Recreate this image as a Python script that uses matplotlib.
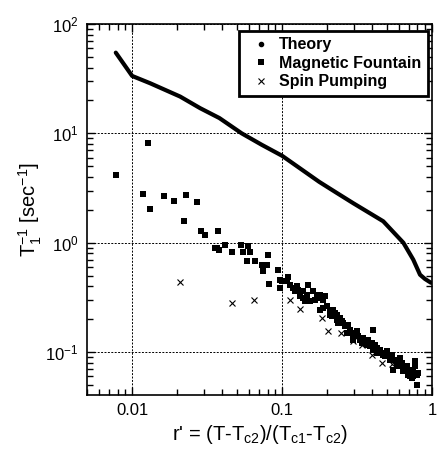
import matplotlib
matplotlib.use("Agg")
import matplotlib.pyplot as plt
from matplotlib.lines import Line2D
from matplotlib.ticker import FixedLocator, FixedFormatter, LogLocator, NullFormatter

plt.rcParams['font.family'] = ['Liberation Sans', 'DejaVu Sans']
plt.rcParams['mathtext.fontset'] = 'custom'
plt.rcParams['mathtext.rm'] = 'Liberation Sans'
plt.rcParams['mathtext.it'] = 'Liberation Sans:italic'
plt.rcParams['mathtext.bf'] = 'Liberation Sans:bold'
plt.rcParams['mathtext.default'] = 'regular'

# Theory curve
theory_x = [0.00778, 0.0100, 0.0132, 0.0209, 0.0284, 0.0382, 0.0538, 0.0733, 0.100,
            0.177, 0.232, 0.298, 0.473, 0.644, 0.75, 0.832, 0.898, 0.985]
theory_y = [54.7, 33.5, 28.7, 21.7, 17.0, 13.8, 10.0, 7.85, 6.24,
            3.6, 2.85, 2.3, 1.57, 1.0, 0.70, 0.51, 0.466, 0.43]

# Magnetic Fountain
mf_x = [0.00782, 0.0128, 0.0119, 0.0132, 0.0164, 0.0191, 0.0227, 0.0223, 0.0271, 0.0290,
        0.0308, 0.0371, 0.0359, 0.0382, 0.0419, 0.0417, 0.0462, 0.0533, 0.0547, 0.0597,
        0.0612, 0.0581, 0.0661, 0.0732, 0.0811, 0.0790, 0.0751, 0.0823, 0.0945, 0.0970,
        0.0970, 0.0995, 0.1074, 0.1102, 0.1130, 0.122, 0.1253, 0.1285, 0.1318, 0.1373,
        0.1424, 0.1498, 0.1476, 0.1537, 0.1618, 0.1703, 0.1747, 0.1792, 0.1886, 0.1935,
        0.1792, 0.1886, 0.1985, 0.2089, 0.2199, 0.2143, 0.2256, 0.2314, 0.2435, 0.2375,
        0.2564, 0.263, 0.2768, 0.2840, 0.270, 0.2913, 0.299, 0.3147, 0.3228, 0.331,
        0.4064, 0.3397, 0.3576, 0.3668, 0.3862, 0.396, 0.4064, 0.4276, 0.4387, 0.450,
        0.4737, 0.4985, 0.5115, 0.5384, 0.5525, 0.5525, 0.5814, 0.6118, 0.628, 0.644,
        0.661, 0.678, 0.6955, 0.7135, 0.732, 0.751, 0.770, 0.790, 0.790, 0.811,
        0.770, 0.678, 0.299, 0.3485, 0.3763, 0.417, 0.4619, 0.5248, 0.5965, 0.644,
        0.6955, 0.732, 0.751, 0.5814, 0.486, 0.4276, 0.2314, 0.2499, 0.2089, 0.166,
        0.1388, 0.119, 0.0366, 0.0376]
mf_y = [4.15, 8.13, 2.80, 2.03, 2.69, 2.41, 2.74, 1.59, 2.36, 1.29,
        1.18, 1.29, 0.90, 0.863, 0.96, 0.96, 0.822, 0.96, 0.822, 0.939,
        0.822, 0.675, 0.675, 0.630, 0.777, 0.630, 0.547, 0.422, 0.567, 0.459,
        0.385, 0.443, 0.443, 0.486, 0.413, 0.359, 0.399, 0.372, 0.324, 0.312,
        0.291, 0.413, 0.335, 0.291, 0.359, 0.335, 0.312, 0.335, 0.302, 0.324,
        0.244, 0.253, 0.262, 0.244, 0.244, 0.2125, 0.228, 0.198, 0.205, 0.185,
        0.185, 0.172, 0.178, 0.1605, 0.1496, 0.1496, 0.1445, 0.155, 0.1395, 0.130,
        0.1605, 0.1213, 0.1256, 0.117, 0.113, 0.1213, 0.1054, 0.109, 0.0983, 0.1054,
        0.0948, 0.1017, 0.0916, 0.0948, 0.0854, 0.0692, 0.0854, 0.0885, 0.0796, 0.0742,
        0.0668, 0.0692, 0.0623, 0.0602, 0.0668, 0.0602, 0.0824, 0.0623, 0.0505, 0.0645,
        0.0742, 0.0742, 0.130, 0.1347, 0.130, 0.117, 0.0983, 0.0854, 0.0796, 0.0668,
        0.0692, 0.0581, 0.0692, 0.0742, 0.0916, 0.0983, 0.220, 0.191, 0.220, 0.302,
        0.359, 0.385, 0.89, 1.29]

# Spin Pumping
sp_x = [0.0209, 0.0462, 0.0654, 0.113, 0.1318, 0.185, 0.203, 0.246, 0.299, 0.340, 0.400, 0.462, 0.539]
sp_y = [0.434, 0.281, 0.297, 0.297, 0.247, 0.204, 0.155, 0.150, 0.126, 0.117, 0.095, 0.079, 0.077]

x_ticks = [0.01, 0.1, 1]
x_ticklabels = ['0.01', '0.1', '1']

fig = plt.figure(figsize=(4.39, 4.5), dpi=100)
ax = fig.add_axes([87/439, 1-395/450, 345/439, 371/450])

ax.plot(theory_x, theory_y, '-', color='black', lw=3, solid_capstyle='round', zorder=3)
ax.plot(mf_x, mf_y, 's', color='black', ms=4.3, mew=0, zorder=3)
ax.plot(sp_x, sp_y, 'x', color='black', ms=5, mew=0.8, zorder=3)

ax.set_xscale('log')
ax.set_yscale('log')
ax.set_xlim(0.005, 1)
ax.set_ylim(0.0405, 100)

ax.xaxis.set_major_locator(FixedLocator(x_ticks))
ax.xaxis.set_major_formatter(FixedFormatter(x_ticklabels))
ax.xaxis.set_minor_locator(LogLocator(base=10, subs=range(2, 10), numticks=20))
ax.xaxis.set_minor_formatter(NullFormatter())
ax.yaxis.set_minor_locator(LogLocator(base=10, subs=range(2, 10), numticks=20))
ax.yaxis.set_minor_formatter(NullFormatter())

ax.tick_params(which='both', direction='in', top=True, right=True, labelsize=12, width=1, color='black')
ax.tick_params(which='major', length=6, pad=6)
ax.tick_params(which='minor', length=4)

ax.grid(True, which='major', linestyle=(0, (2, 1.5)), color='black', lw=0.7)
for s in ax.spines.values():
    s.set_linewidth(1.2)

ax.set_xlabel(r"r' = (T-T$_{c2}$)/(T$_{c1}$-T$_{c2}$)", fontsize=14.5, labelpad=3)
ax.set_ylabel(r"T$_1^{-1}$ [sec$^{-1}$]", fontsize=14.5, labelpad=1)

handles = [
    Line2D([], [], marker='o', ls='none', color='black', ms=3),
    Line2D([], [], marker='s', ls='none', color='black', ms=4.3, mew=0),
    Line2D([], [], marker='x', ls='none', color='black', ms=5, mew=0.8),
]
leg = ax.legend(handles, ['Theory', 'Magnetic Fountain', 'Spin Pumping'],
                loc='upper right', bbox_to_anchor=((428-87)/345, (395-31)/371),
                borderaxespad=0, fancybox=False, shadow=False, framealpha=1,
                prop={'weight': 'bold', 'size': 11.5}, handlelength=1.95,
                handletextpad=0.2, labelspacing=0.22, borderpad=0.4)
leg.get_frame().set_edgecolor('black')
leg.get_frame().set_linewidth(2)

fig.savefig('out.png', dpi=100)
